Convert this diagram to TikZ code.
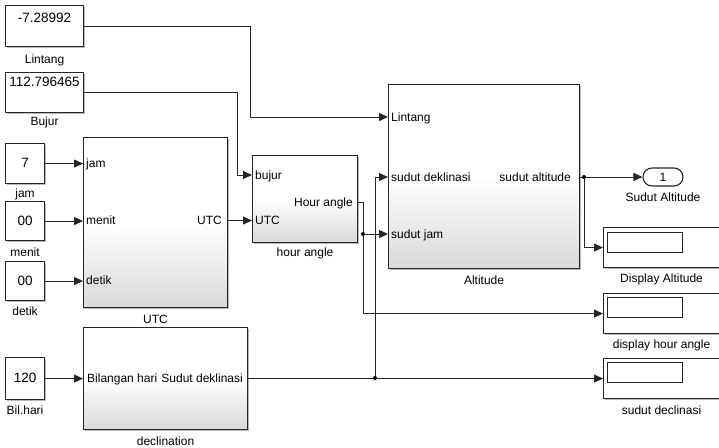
\documentclass[tikz,border=0pt]{standalone}
\usepackage{fontspec}
\setmainfont{Liberation Sans}
\usetikzlibrary{arrows.meta,shadows}
\tikzset{
  shad/.style={drop shadow={shadow xshift=1.6pt,shadow yshift=-1.6pt,fill=black!28,opacity=1}},
  blk/.style={draw=black!85, line width=1.1pt, top color=white, bottom color=black!15, middle color=white, shad, inner sep=0pt, anchor=north west},
  cst/.style={draw=black!85, line width=1.1pt, fill=white, shad, inner sep=0pt, anchor=north west},
  disp/.style={draw=black!85, line width=1.1pt, fill=white, shad, inner sep=0pt, anchor=north west, minimum width=116pt, minimum height=40pt},
  dispin/.style={draw=black!85, line width=0.9pt, fill=white, inner sep=0pt, anchor=north west, minimum width=75pt, minimum height=20pt},
  wire/.style={draw=black!85, line width=0.9pt},
  arr/.style={wire, -{Triangle[length=9pt,width=8pt]}},
  ptxt/.style={font=\fontsize{12}{14}\selectfont, inner sep=0pt, anchor=base west},
  ptxtr/.style={font=\fontsize{12}{14}\selectfont, inner sep=0pt, anchor=base east},
  lbl/.style={font=\fontsize{12}{14}\selectfont, inner sep=0pt, anchor=base},
  num/.style={font=\fontsize{13.5}{15}\selectfont, inner sep=0pt, anchor=base},
  jdot/.style={fill=black, draw=none}
}
\begin{document}
\begin{tikzpicture}[x=1pt,y=-1pt]
\useasboundingbox (0,0) rectangle (719,447);
\fill[white] (0,0) rectangle (719,447);

% constant blocks
\node[cst, minimum width=78pt, minimum height=41pt] (clin) at (5,5) {};
\node[num] (clinv) at ([yshift=-17pt]clin.north) {-7.28992};
\node[lbl] (clinl) at ([yshift=-16pt]clin.south) {Lintang};

\node[cst, minimum width=78pt, minimum height=40pt] (cbuj) at (5,72) {};
\node[num] (cbujv) at ([yshift=-14pt]cbuj.north) {112.796465};
\node[lbl] (cbujl) at ([yshift=-12pt]cbuj.south) {Bujur};

\node[cst, minimum width=39pt, minimum height=40pt] (cjam) at (5,143) {};
\node[num] (cjamv) at ([yshift=-4pt]cjam.center) {7};
\node[lbl] (cjaml) at ([yshift=-13pt]cjam.south) {jam};

\node[cst, minimum width=39pt, minimum height=39pt] (cmen) at (5,201) {};
\node[num] (cmenv) at ([yshift=-4pt]cmen.center) {00};
\node[lbl] (cmenl) at ([yshift=-15pt]cmen.south) {menit};

\node[cst, minimum width=39pt, minimum height=39pt] (cdet) at (5,261) {};
\node[num] (cdetv) at ([yshift=-4pt]cdet.center) {00};
\node[lbl] (cdetl) at ([yshift=-14pt]cdet.south) {detik};

\node[cst, minimum width=39pt, minimum height=42pt] (cbil) at (5,357) {};
\node[num] (cbilv) at ([yshift=-4pt]cbil.center) {120};
\node[lbl] (cbill) at ([yshift=-14pt]cbil.south) {Bil.hari};

% subsystem blocks
\node[blk, minimum width=144pt, minimum height=170pt] (utc) at (83,137) {};
\node[lbl] (utcl) at ([yshift=-15pt]utc.south) {UTC};
\node[ptxt] (utcp1) at (86,167.3) {jam};
\node[ptxt] (utcp2) at (86,224.8) {menit};
\node[ptxt] (utcp3) at (86,284.8) {detik};
\node[ptxtr] (utcpo) at (222,224.8) {UTC};

\node[blk, minimum width=164pt, minimum height=102pt] (dec) at (83,327) {};
\node[lbl] (decl) at ([yshift=-15pt]dec.south) {declination};
\node[ptxt] (decp1) at (87,382.3) {Bilangan hari};
\node[ptxtr] (decpo) at (243,382.3) {Sudut deklinasi};

\node[blk, minimum width=105pt, minimum height=87pt] (ha) at (252,155) {};
\node[lbl] (hal) at ([yshift=-13pt]ha.south) {hour angle};
\node[ptxt] (hap1) at (255,179.3) {bujur};
\node[ptxt] (hap2) at (255,224.8) {UTC};
\node[ptxtr] (hapo) at (353,206.3) {Hour angle};

\node[blk, minimum width=191pt, minimum height=184pt] (alt) at (388,84) {};
\node[lbl] (altl) at ([yshift=-15pt]alt.south) {Altitude};
\node[ptxt] (altp1) at (391,121.3) {Lintang};
\node[ptxt] (altp2) at (391,181.3) {sudut deklinasi};
\node[ptxt] (altp3) at (391,238.3) {sudut jam};
\node[ptxtr] (altpo) at (571,181.3) {sudut altitude};

% outport
\node[draw=black!85, line width=1.1pt, fill=white, rounded corners=9pt, minimum width=40pt, minimum height=18pt, inner sep=0pt, font=\fontsize{12}{14}\selectfont] (out1) at (663,177) {1};
\node[lbl] (out1l) at ([yshift=-15pt]out1.south) {Sudut Altitude};

% displays
\node[disp] (dA) at (603,227) {};
\node[dispin] (dAi) at ([shift={(4pt,-5pt)}]dA.north west) {};
\node[lbl] (dAl) at ([yshift=-14pt]dA.south) {Display Altitude};

\node[disp] (dH) at (603,293) {};
\node[dispin] (dHi) at ([shift={(4pt,-4pt)}]dH.north west) {};
\node[lbl] (dHl) at ([yshift=-14pt]dH.south) {display hour angle};

\node[disp] (dS) at (603,358) {};
\node[dispin] (dSi) at ([shift={(4pt,-4pt)}]dS.north west) {};
\node[lbl] (dSl) at ([yshift=-15pt]dS.south) {sudut declinasi};

% port coordinates
\coordinate (utcO) at (227,220.5);
\coordinate (haB) at (252,175);
\coordinate (haO) at (357,202);
\coordinate (altL) at (388,117);
\coordinate (altD) at (388,177);
\coordinate (altJ) at (388,234);
\coordinate (altO) at (579,177);
\coordinate (jA) at (363,234);
\coordinate (jB) at (375,378);
\coordinate (jC) at (584,177);

% wires
\draw[arr] (clin.east) -- (clin.east -| 250,0) |- (altL);
\draw[arr] (cbuj.east) -- (cbuj.east -| 237,0) |- (haB);
\draw[arr] (cjam.east) -- (cjam.east -| utc.west);
\draw[arr] (cmen.east) -- (cmen.east -| utc.west);
\draw[arr] (cdet.east) -- (cdet.east -| utc.west);
\draw[arr] (cbil.east) -- (cbil.east -| dec.west);
\draw[arr] (utcO) -- (utcO -| ha.west);
\draw[wire] (haO) -| (jA);
\draw[arr] (jA) |- (dH.west);
\draw[arr] (jA) -- (altJ);
\draw[arr] (dec.east) -- (dS.west);
\draw[arr] (jB) |- (altD);
\draw[arr] (altO) -- (out1.west);
\draw[arr] (jC) |- (dA.west);
\fill[jdot] (jA) circle (2pt);
\fill[jdot] (jB) circle (2pt);
\fill[jdot] (jC) circle (2pt);
\end{tikzpicture}
\end{document}
